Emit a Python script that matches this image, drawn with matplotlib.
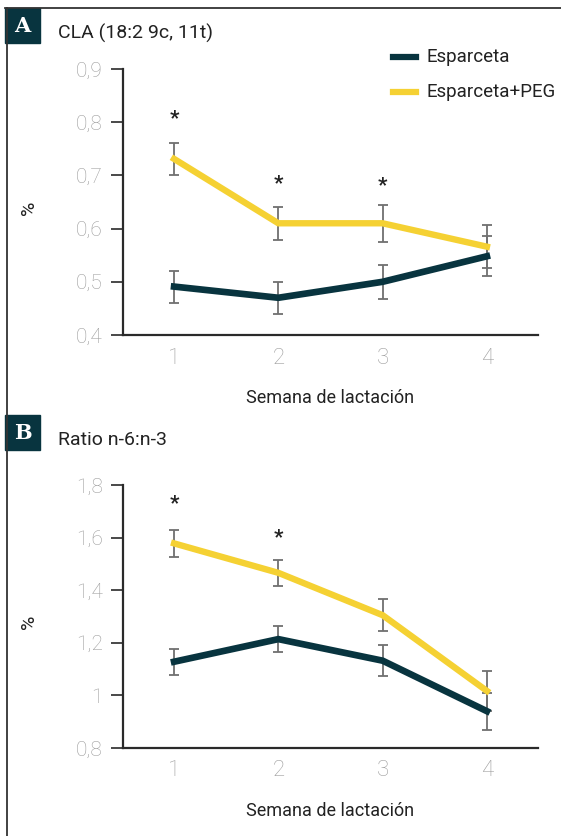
import matplotlib
matplotlib.use("Agg")
import matplotlib.pyplot as plt
from matplotlib.patches import Rectangle
from matplotlib.lines import Line2D

plt.rcParams['font.family'] = ['Roboto', 'DejaVu Sans']

W, H = 561, 836          # tamaño de la figura en píxeles
DARK = "#08343f"
YELLOW = "#f5d133"
GREY_ERR = "#707070"
TICK_TXT = "#9c9c9c"

semanas = [1, 2, 3, 4]
series = ["Esparceta", "Esparceta+PEG"]

# Panel A: CLA (18:2 9c, 11t)
cla_esp = [0.491, 0.470, 0.500, 0.548]
cla_esp_err = [0.030, 0.030, 0.032, 0.038]
cla_peg = [0.731, 0.610, 0.610, 0.566]
cla_peg_err = [0.030, 0.031, 0.035, 0.040]
cla_sig_x = [1, 2, 3]
cla_sig_y = [0.806, 0.685, 0.681]
cla_ticks = [0.4, 0.5, 0.6, 0.7, 0.8, 0.9]
cla_ticklabels = ["0,4", "0,5", "0,6", "0,7", "0,8", "0,9"]

# Panel B: ratio n-6:n-3
rat_esp = [1.128, 1.214, 1.132, 0.940]
rat_esp_err = [0.050, 0.050, 0.058, 0.070]
rat_peg = [1.578, 1.466, 1.305, 1.017]
rat_peg_err = [0.050, 0.050, 0.060, 0.077]
rat_sig_x = [1, 2]
rat_sig_y = [1.728, 1.600]
rat_ticks = [0.8, 1.0, 1.2, 1.4, 1.6, 1.8]
rat_ticklabels = ["0,8", "1", "1,2", "1,4", "1,6", "1,8"]


def fx(x):
    return x / W


def fy(y):
    return 1 - y / H


fig = plt.figure(figsize=(W / 100, H / 100), dpi=100)


def panel(top, bottom, esp, esp_err, peg, peg_err, sig_x, sig_y,
          ticks, ticklabels, letter, title, box_top):
    left, right = 123, 538
    ax = fig.add_axes([fx(left), fy(bottom), (right - left) / W, (bottom - top) / H])
    for vals, errs in [(peg, peg_err), (esp, esp_err)]:
        ax.errorbar(semanas, vals, yerr=errs, fmt="none", ecolor=GREY_ERR,
                    elinewidth=1.3, capsize=3.5, capthick=1.3, zorder=2)
    ax.plot(semanas, peg, color=YELLOW, lw=4.6, zorder=3, solid_joinstyle="miter")
    ax.plot(semanas, esp, color=DARK, lw=4.8, zorder=4, solid_joinstyle="miter")
    for sx, sy in zip(sig_x, sig_y):
        ax.text(sx, sy, "*", ha="center", va="center", fontsize=15,
                fontweight="bold", color="#222222")

    ax.set_xlim(0.51, 4.49)
    ax.set_ylim(ticks[0], ticks[-1])
    ax.set_xticks(semanas)
    ax.set_yticks(ticks)
    ax.set_yticklabels(ticklabels)
    ax.spines[["top", "right"]].set_visible(False)
    for s in ["left", "bottom"]:
        ax.spines[s].set_color("#2a2a2a")
        ax.spines[s].set_linewidth(1.6)
    ax.tick_params(axis="y", direction="out", length=8.5, width=1.2, color="#2a2a2a",
                   pad=6, labelsize=15, labelcolor=TICK_TXT)
    ax.tick_params(axis="x", length=0, pad=9, labelsize=16, labelcolor=TICK_TXT)
    for lab in ax.get_xticklabels() + ax.get_yticklabels():
        lab.set_fontweight("light")
    ax.set_xlabel("Semana de lactación", fontsize=13, color="#222222", labelpad=15)
    ax.set_ylabel("%", fontsize=14, color="#222222")
    ax.yaxis.set_label_coords((38 - left) / (right - left), 0.48)

    # recuadro con la letra del panel
    fig.patches.append(Rectangle((fx(5), fy(box_top + 35)), 35 / W, 35 / H,
                                 transform=fig.transFigure, color=DARK))
    fig.text(fx(22.5), fy(box_top + 17.5), letter, ha="center", va="center",
             fontsize=15, fontweight="bold", color="white", family="DejaVu Serif")
    fig.text(fx(58), fy(box_top + 25), title, ha="left", va="center",
             fontsize=14, color="#222222")
    return ax


axA = panel(69, 335, cla_esp, cla_esp_err, cla_peg, cla_peg_err, cla_sig_x, cla_sig_y,
            cla_ticks, cla_ticklabels, "A", "CLA (18:2 9c, 11t)", 8)
axB = panel(485, 748, rat_esp, rat_esp_err, rat_peg, rat_peg_err, rat_sig_x, rat_sig_y,
            rat_ticks, rat_ticklabels, "B", "Ratio n-6:n-3", 415)

# leyenda dibujada a mano
for i, (name, col) in enumerate(zip(series, [DARK, YELLOW])):
    yy = 57 + 35 * i
    fig.add_artist(Line2D([fx(393), fx(416)], [fy(yy), fy(yy)], color=col, lw=4.5))
    fig.text(fx(426), fy(yy), name, ha="left", va="center", fontsize=13.5, color="#222222")

# marco superior e izquierdo
fig.add_artist(Line2D([fx(5), fx(561)], [fy(8), fy(8)], color="#333333", lw=1.3))
fig.add_artist(Line2D([fx(6.5), fx(6.5)], [fy(8), fy(836)], color="#333333", lw=1.3))

fig.savefig("out.png", dpi=100)
